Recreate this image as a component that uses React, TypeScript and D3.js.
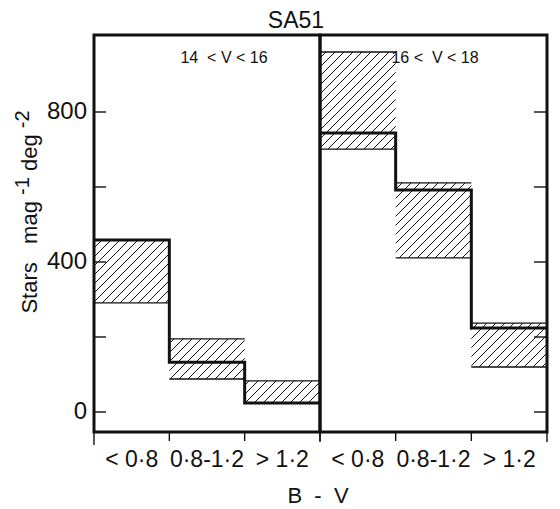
import React from 'react';
import * as d3 from 'd3';

// B-V colour bins
const categories = ['< 0·8', '0·8-1·2', '> 1·2'];
const panelLabels = ['14  < V < 16', '16 <  V < 18'];

// 14 < V < 16 : model line and hatched observed range
const brightLine = [459, 133, 24];
const brightLow = [291, 88, 24];
const brightHigh = [459, 195, 83];

// 16 < V < 18
const faintLine = [744, 592, 224];
const faintLow = [701, 411, 120];
const faintHigh = [960, 611, 237];

const yTicks = [0, 200, 400, 600, 800];
const yLabels = [0, 400, 800];

const font = 'Liberation Sans, Arial, sans-serif';

const top = 35;
const bottom = 432;
const y = d3.scaleLinear().domain([0, 800]).range([412, 112]);

const panels = [
  { x0: 94, x1: 320, line: brightLine, low: brightLow, high: brightHigh, label: panelLabels[0], lx: 224 },
  { x0: 320, x1: 547, line: faintLine, low: faintLow, high: faintHigh, label: panelLabels[1], lx: 435 },
];

const Panel = ({ p, idx }: { p: any; idx: number }) => {
  const x = d3.scaleBand<string>().domain(categories).range([p.x0, p.x1]);
  const pts: [number, number][] = categories.map((c, i) => [x(c)!, p.line[i]]);
  pts.push([p.x1, p.line[p.line.length - 1]]);
  const step = d3
    .line<[number, number]>()
    .x((d) => d[0])
    .y((d) => y(d[1]))
    .curve(d3.curveStepAfter)(pts);

  return (
    <g>
      {categories.map((c, i) => {
        const bx = x(c)!;
        const bw = x.bandwidth();
        const yt = y(p.high[i]);
        const yb = y(p.low[i]);
        return (
          <g key={c}>
            <rect x={bx} y={yt} width={bw} height={yb - yt} fill='url(#hatch)' />
            <line x1={bx} x2={bx + bw} y1={yt} y2={yt} stroke='#111' strokeWidth={1.4} />
            <line x1={bx} x2={bx + bw} y1={yb} y2={yb} stroke='#111' strokeWidth={1.4} />
          </g>
        );
      })}
      <path d={step!} fill='none' stroke='#111' strokeWidth={3} />
      {yTicks.map((t) =>
        idx === 0 ? (
          <line key={t} x1={p.x0} x2={p.x0 + 12} y1={y(t)} y2={y(t)} stroke='#111' strokeWidth={1.4} />
        ) : (
          <line key={t} x1={p.x1 - 13} x2={p.x1} y1={y(t)} y2={y(t)} stroke='#111' strokeWidth={1.4} />
        )
      )}
      {categories.map((c, i) => (
        <line
          key={'t' + c}
          x1={x(c)!}
          x2={x(c)!}
          y1={bottom}
          y2={bottom + (i === 0 && idx === 0 ? 13 : 9)}
          stroke='#111'
          strokeWidth={1.4}
        />
      ))}
      <line x1={p.x1} x2={p.x1} y1={bottom} y2={bottom + 10} stroke='#111' strokeWidth={1.4} />
      {categories.map((c) => (
        <text
          key={'l' + c}
          x={x(c)! + x.bandwidth() / 2}
          y={467}
          textAnchor='middle'
          fontFamily={font}
          fontSize={23}
          fill='#111'
        >
          {c}
        </text>
      ))}
      <rect x={p.x0} y={top} width={p.x1 - p.x0} height={bottom - top} fill='none' stroke='#111' strokeWidth={3} />
      <text x={p.lx} y={63} textAnchor='middle' fontFamily={font} fontSize={16} fill='#111' style={{ whiteSpace: 'pre' }}>
        {p.label}
      </text>
    </g>
  );
};

const App = () => {
  return (
    <svg width={560} height={509} style={{ position: 'absolute', left: 0, top: 0, background: '#fff' }}>
      <defs>
        <pattern id='hatch' patternUnits='userSpaceOnUse' width={9} height={9}>
          <path d='M-1,10 L10,-1 M-1,1 L1,-1 M8,10 L10,8' stroke='#111' strokeWidth={1} />
        </pattern>
      </defs>
      <text x={296} y={28} textAnchor='middle' fontFamily={font} fontSize={23} fill='#111'>
        SA51
      </text>
      {panels.map((p, i) => (
        <Panel key={i} p={p} idx={i} />
      ))}
      {yLabels.map((t) => (
        <text key={t} x={87} y={y(t) + 1} textAnchor='end' dominantBaseline='middle' fontFamily={font} fontSize={24} fill='#111'>
          {t}
        </text>
      ))}
      <text
        transform='translate(37,212) rotate(-90)'
        textAnchor='middle'
        fontFamily={font}
        fontSize={22}
        fill='#111'
        style={{ whiteSpace: 'pre' }}
      >
        {'Stars   mag '}
        <tspan dy={-8} fontSize={20}>-1</tspan>
        <tspan dy={8}>{' deg '}</tspan>
        <tspan dy={-8} fontSize={20}>-2</tspan>
      </text>
      <text x={318} y={503} textAnchor='middle' fontFamily={font} fontSize={22} fill='#111' style={{ whiteSpace: 'pre' }}>
        {'B  -  V'}
      </text>
    </svg>
  );
};

export default App;
